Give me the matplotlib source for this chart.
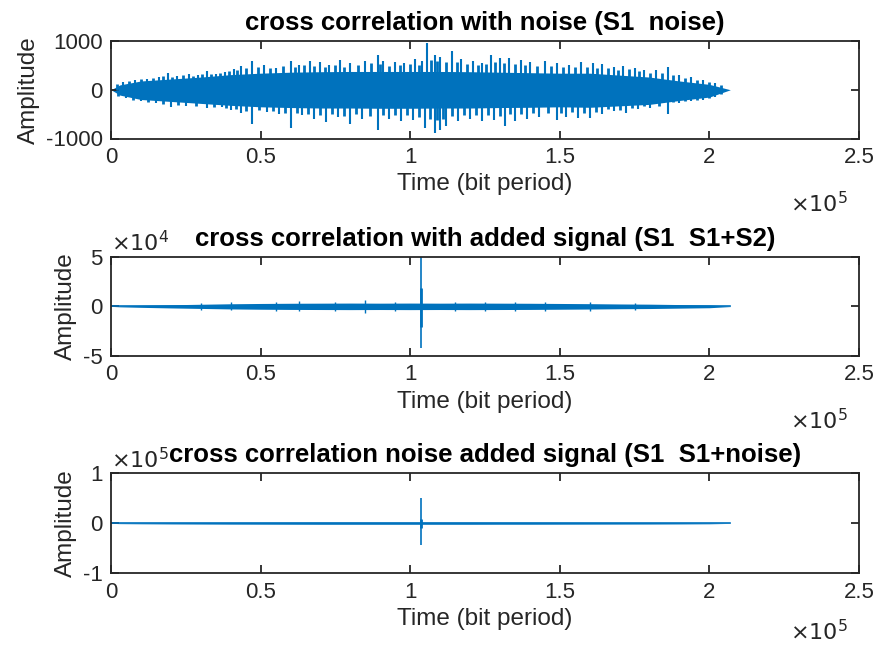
import numpy as np
import matplotlib
matplotlib.use("Agg")
import matplotlib.pyplot as plt

plt.rcParams['font.family'] = ['Liberation Sans', 'DejaVu Sans']

BLUE = '#0072BD'
AXC = '#262626'

# ---------------- data (x in bit periods) ----------------
# Panel 1: envelope of dense noise body and individual peaks
p1_body_x = [0, 3e3, 1e4, 2e4, 3e4, 4e4, 5e4, 6e4, 7e4, 8e4, 9e4, 1e5, 1.1e5, 1.2e5,
             1.3e5, 1.4e5, 1.5e5, 1.6e5, 1.7e5, 1.8e5, 1.9e5, 2.0e5, 2.07e5]
p1_body_hi = [0, 100, 180, 220, 260, 310, 340, 360, 370, 375, 375, 375, 375, 370,
              360, 350, 340, 340, 300, 260, 180, 110, 0]
p1_body_lo = [0, 110, 200, 240, 280, 320, 350, 365, 375, 375, 380, 380, 375, 375,
              365, 360, 350, 360, 330, 300, 220, 150, 0]
# large peaks (x in units of 1e5)
p1_up_x = [0.04, 0.08, 0.12, 0.16, 0.19, 0.22, 0.26, 0.29, 0.32, 0.35, 0.38, 0.41, 0.435,
           0.47, 0.51, 0.55, 0.60, 0.63, 0.665, 0.70, 0.73, 0.765, 0.80, 0.85, 0.893, 0.91,
           0.95, 0.98, 1.016, 1.04, 1.056, 1.083, 1.10, 1.14, 1.17, 1.21, 1.24, 1.27, 1.30,
           1.33, 1.37, 1.40, 1.45, 1.49, 1.53, 1.57, 1.61, 1.64, 1.68, 1.71, 1.75, 1.78,
           1.82, 1.86, 1.90, 1.94, 1.98, 2.02]
p1_up_y = [150, 200, 230, 260, 340, 280, 330, 300, 375, 330, 370, 420, 490,
           580, 510, 450, 580, 500, 595, 560, 500, 615, 540, 580, 705, 600,
           560, 540, 635, 600, 960, 720, 680, 800, 640, 580, 540, 720, 660,
           650, 615, 560, 580, 540, 500, 560, 545, 530, 470, 480, 445, 400,
           400, 460, 300, 260, 200, 130]
p1_dn_x = [0.05, 0.10, 0.15, 0.20, 0.25, 0.32, 0.37, 0.40, 0.435, 0.47, 0.52, 0.56, 0.60,
           0.64, 0.68, 0.72, 0.76, 0.80, 0.84, 0.893, 0.93, 0.97, 1.01, 1.05, 1.083, 1.10,
           1.12, 1.16, 1.20, 1.24, 1.28, 1.317, 1.35, 1.39, 1.43, 1.49, 1.52, 1.56, 1.60,
           1.64, 1.68, 1.72, 1.76, 1.80, 1.86, 1.90, 1.94, 1.98, 2.02]
p1_dn_y = [170, 230, 280, 360, 330, 380, 360, 420, 485, 710, 450, 500, 780,
           520, 600, 655, 560, 710, 600, 830, 600, 645, 620, 790, 890, 830,
           740, 650, 600, 640, 620, 750, 640, 600, 560, 625, 560, 580, 570,
           500, 440, 470, 400, 380, 505, 280, 230, 200, 140]
# medium peaks that make the ragged edge of the body
p1_up2_x = [0.02, 0.06, 0.10, 0.14, 0.175, 0.205, 0.24, 0.275, 0.305, 0.335, 0.365, 0.395,
            0.42, 0.45, 0.49, 0.53, 0.575, 0.615, 0.645, 0.68, 0.715, 0.75, 0.78, 0.825,
            0.87, 0.90, 0.93, 0.965, 1.0, 1.03, 1.07, 1.09, 1.12, 1.155, 1.19, 1.225, 1.255,
            1.285, 1.315, 1.35, 1.385, 1.425, 1.47, 1.51, 1.55, 1.59, 1.625, 1.66, 1.695,
            1.73, 1.765, 1.80, 1.84, 1.88, 1.92, 1.96, 2.0, 2.04]
p1_up2_y = [110, 180, 215, 240, 280, 260, 300, 290, 330, 320, 340, 380,
            400, 450, 470, 440, 480, 470, 500, 480, 470, 510, 470, 500,
            540, 520, 490, 500, 520, 510, 620, 600, 560, 560, 520, 500, 520,
            560, 540, 520, 500, 480, 490, 470, 460, 470, 450, 440, 400,
            420, 380, 340, 350, 300, 250, 210, 150, 90]
p1_dn2_x = [0.025, 0.075, 0.125, 0.175, 0.225, 0.285, 0.345, 0.385, 0.4175, 0.4525, 0.495,
            0.54, 0.58, 0.62, 0.66, 0.70, 0.74, 0.78, 0.82, 0.865, 0.91, 0.95, 0.99, 1.03,
            1.065, 1.09, 1.11, 1.14, 1.18, 1.22, 1.26, 1.30, 1.335, 1.37, 1.41, 1.46, 1.505,
            1.54, 1.58, 1.62, 1.66, 1.70, 1.74, 1.78, 1.83, 1.88, 1.92, 1.96, 2.0, 2.04]
p1_dn2_y = [120, 200, 250, 300, 320, 340, 350, 380, 400, 430, 420,
            440, 470, 470, 500, 520, 490, 530, 500, 540, 520, 510, 520, 560,
            600, 620, 600, 540, 520, 510, 520, 540, 500, 490, 480, 470, 480,
            460, 470, 450, 400, 410, 380, 340, 330, 260, 230, 200, 160, 90]

# Panel 2: S1 vs S1+S2
p2_body_x = p1_body_x
p2_body_hi = [0, 500, 1000, 1600, 2100, 2600, 2900, 3100, 3200, 3300, 3200, 3300, 3200,
              3300, 3200, 3100, 2900, 2700, 2400, 2200, 1800, 1400, 200]
p2_body_lo = p2_body_hi
p2_bump_x = [0.30, 0.40, 0.55, 0.63, 0.75, 0.85, 0.95, 1.15, 1.25, 1.35, 1.45, 1.60, 1.75]
p2_bump_y = [3800, 4100, 4800, 5000, 4800, 6300, 4500, 4800, 4600, 4600, 4400, 4200, 3700]
p2_peak_x = 1.035e5
p2_peak_hi = 52000
p2_peak_lo = -42000
p2_core_hi = 18500
p2_core_lo = -21000

# Panel 3: S1 vs S1+noise
p3_body_x = p1_body_x
p3_body_hi = [0, 700, 1000, 1300, 1500, 1700, 1800, 1900, 2000, 2000, 2000, 2000, 2000,
              2000, 1900, 1900, 1800, 1700, 1600, 1500, 1300, 1000, 200]
p3_body_lo = p3_body_hi
p3_peak_x = 1.035e5
p3_peak_hi = 51000
p3_peak_lo = -43000
p3_core_hi = 9000
p3_core_lo = -10000

x_ticks = [0, 0.5e5, 1e5, 1.5e5, 2e5, 2.5e5]
x_ticklabels = ['0', '0.5', '1', '1.5', '2', '2.5']

titles = ['cross correlation with noise (S1  noise)',
          'cross correlation with added signal (S1  S1+S2)',
          'cross correlation noise added signal (S1  S1+noise)']

# ---------------- figure ----------------
fig = plt.figure(figsize=(8.77, 6.5), dpi=100)
W, H = 877, 650
def axes_px(l, t, r, b):
    return fig.add_axes([l / W, 1 - b / H, (r - l) / W, (b - t) / H])

ax1 = axes_px(111, 41, 859, 138.5)
ax2 = axes_px(111, 256.7, 859, 356)
ax3 = axes_px(111, 473.3, 859, 573.3)

FS = 16
FL = 17.5
FT = 18.5

def style(ax, yticks, yticklabels, ylim, title, xoff_dy, yoff=None):
    ax.set_xlim(0, 2.5e5)
    ax.set_ylim(*ylim)
    ax.set_xticks(x_ticks)
    ax.set_xticklabels(x_ticklabels)
    ax.set_yticks(yticks)
    ax.set_yticklabels(yticklabels)
    ax.tick_params(direction='in', length=6, width=1.3, top=True, right=True,
                   labelsize=FS, colors=AXC, pad=6)
    for s in ax.spines.values():
        s.set_color(AXC)
        s.set_linewidth(1.3)
    ax.set_xlabel('Time (bit period)', fontsize=FL, color=AXC, labelpad=4)
    ax.set_ylabel('Amplitude', fontsize=FL, color=AXC, labelpad=4)
    ax.set_title(title, fontsize=FT, fontweight='bold', color='black', pad=8)
    h = ax.get_position().height * H
    ax.text(0.985, -xoff_dy / h, r'$\times10^{5}$', transform=ax.transAxes, ha='right',
            va='center', fontsize=FS, color=AXC)
    if yoff:
        ax.text(0.0, 1 + 13 / h, yoff, transform=ax.transAxes, ha='left', va='center',
                fontsize=FS, color=AXC)

# Panel 1
ax1.fill_between(p1_body_x, p1_body_hi, -np.array(p1_body_lo), color=BLUE, lw=0)
ax1.vlines(np.array(p1_up_x) * 1e5, 0, p1_up_y, color=BLUE, lw=1.5)
ax1.vlines(np.array(p1_dn_x) * 1e5, 0, -np.array(p1_dn_y), color=BLUE, lw=1.5)
ax1.vlines(np.array(p1_up2_x) * 1e5, 0, p1_up2_y, color=BLUE, lw=2)
ax1.vlines(np.array(p1_dn2_x) * 1e5, 0, -np.array(p1_dn2_y), color=BLUE, lw=2)
style(ax1, [-1000, 0, 1000], ['-1000', '0', '1000'], (-1000, 1000), titles[0], 66)

# Panel 2
ax2.fill_between(p2_body_x, p2_body_hi, -np.array(p2_body_lo), color=BLUE, lw=0)
ax2.plot(p2_body_x, [0] * len(p2_body_x), color=BLUE, lw=1.2)
ax2.vlines(np.array(p2_bump_x) * 1e5, -np.array(p2_bump_y), p2_bump_y, color=BLUE, lw=1)
ax2.vlines([p2_peak_x], p2_peak_lo, p2_peak_hi, color=BLUE, lw=1.2)
ax2.vlines([p2_peak_x], p2_core_lo, p2_core_hi, color=BLUE, lw=2)
style(ax2, [-5e4, 0, 5e4], ['-5', '0', '5'], (-5e4, 5e4), titles[1], 66, r'$\times10^{4}$')

# Panel 3
ax3.fill_between(p3_body_x, p3_body_hi, -np.array(p3_body_lo), color=BLUE, lw=0)
ax3.plot(p3_body_x, [0] * len(p3_body_x), color=BLUE, lw=1.2)
ax3.vlines([p3_peak_x], p3_peak_lo, p3_peak_hi, color=BLUE, lw=1.2)
ax3.vlines([p3_peak_x], p3_core_lo, p3_core_hi, color=BLUE, lw=2)
style(ax3, [-1e5, 0, 1e5], ['-1', '0', '1'], (-1e5, 1e5), titles[2], 59, r'$\times10^{5}$')

fig.savefig('out.png', dpi=100)
